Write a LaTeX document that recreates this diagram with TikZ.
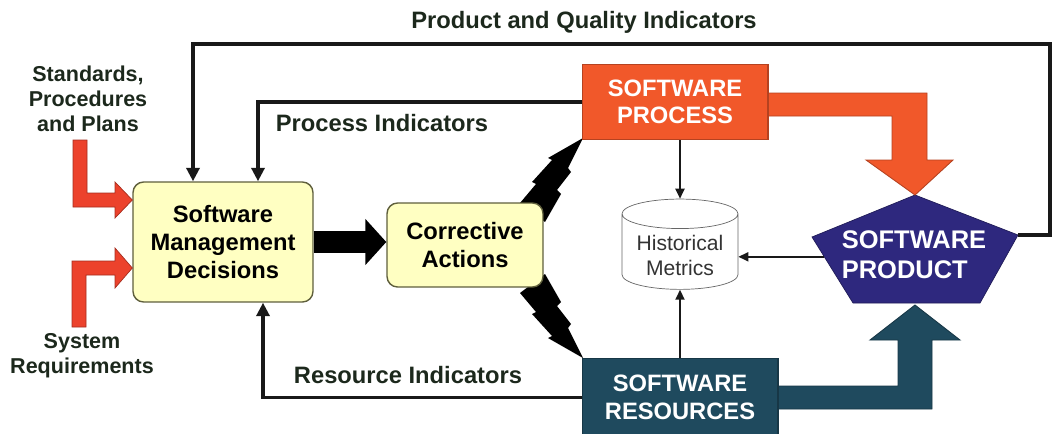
\documentclass[tikz,border=0pt]{standalone}
\usepackage{fontspec}
\setmainfont{Liberation Sans}
\setsansfont{Liberation Sans}
\usepackage{tikz}
\usetikzlibrary{arrows.meta, positioning, calc, shapes.geometric}
\definecolor{ink}{RGB}{28,40,28}
\definecolor{decfill}{RGB}{255,255,194}
\definecolor{decline}{RGB}{95,95,60}
\definecolor{procred}{RGB}{241,88,42}
\definecolor{inred}{RGB}{236,66,44}
\definecolor{prodblue}{RGB}{46,40,126}
\definecolor{resteal}{RGB}{31,74,94}

\begin{document}
\begin{tikzpicture}[x=0.02cm, y=-0.02cm,
    every node/.style={font=\bfseries\fontsize{13.5}{16}\selectfont, text=ink, align=center},
    decbox/.style={draw=decline, line width=0.8pt, fill=decfill, text=black, rounded corners=6pt},
    unitbox/.style={draw=#1!75!black, line width=0.6pt, fill=#1, text=white, inner sep=0pt},
    fatarrow/.style={fill=#1, draw=#1!75!black, line width=0.5pt},
    sidelbl/.style={font=\bfseries\fontsize{12.25}{14.2}\selectfont},
    fb/.style={draw=black!90, line width=2.1pt, -{Triangle[length=0.27cm,width=0.26cm]}},
    mini/.style={draw=black!90, line width=1.1pt, -{Triangle[length=0.2cm,width=0.18cm]}}]
  \useasboundingbox (0,0) rectangle (1053,433);
  \clip (0,0) rectangle (1053,433);
  % lightning bolts
  \foreach \s in {1,-1} {
    \begin{scope}[shift={(0,248)}, yscale=\s]
      \fill[black] (520,-45) -- (536,-64) -- (532,-66) -- (552,-88) -- (548,-90) -- (583,-110)
        -- (568,-80) -- (571,-76) -- (557,-58) -- (561,-54) -- (545,-26) -- cycle;
    \end{scope}}
  % boxes
  \node[decbox, minimum width=3.6cm, minimum height=2.4cm] (smd) at (223,242) {Software\\Management\\Decisions};
  \node[decbox, minimum width=3.12cm, minimum height=1.68cm] (ca) at (465,245) {Corrective\\Actions};
  \node[unitbox=procred, minimum width=3.72cm, minimum height=1.5cm,
    font=\bfseries\fontsize{13.5}{15.4}\selectfont] (proc) at (675,102) {SOFTWARE\\PROCESS};
  \node[unitbox=resteal, minimum width=3.92cm, minimum height=1.56cm, anchor=north] (res) at (680,358) {SOFTWARE\\RESOURCES};
  \node[cylinder, shape border rotate=90, draw=black!60, fill=white, aspect=0.3,
    minimum width=2.32cm, minimum height=1.76cm, text=black!80,
    font=\fontsize{12}{14.2}\selectfont] (hist) at (680,255) {Historical\\Metrics};
  % product pentagon
  \path (915,195) coordinate (prodN) (1018,235) coordinate (prodE) (980,303) coordinate (prodSE)
    (853,303) coordinate (prodSW) (812,237) coordinate (prodW);
  \coordinate (prodedge) at ($(prodW)!0.3!(prodSW)$);
  \fill[prodblue, draw=prodblue!70!black] (prodN) -- (prodE) -- (prodSE) -- (prodSW) -- (prodW) -- cycle;
  \node[text=white, align=left, font=\bfseries\fontsize{14.5}{17}\selectfont] (prod) at (914,255) {SOFTWARE\\PRODUCT};
  % fat arrows
  \draw[fatarrow=procred] (proc.east |- 0,93) -- (927,93) -- (927,160) -- (953,160) -- (prodN)
    -- (866,160) -- (892,160) -- (892,116) -- (proc.east |- 0,116) -- cycle;
  \draw[fatarrow=resteal] (res.east |- 0,386) -- (898,386) -- (898,340) -- (870,340) -- (915,305)
    -- (960,340) -- (932,340) -- (932,409) -- (res.east |- 0,409) -- cycle;
  \fill[inred, draw=inred!70!black] (73,140) -- (87,140) -- (87,193) -- (115,193) -- (115,182) -- (smd.west |- 0,200)
    -- (115,218) -- (115,207) -- (73,207) -- cycle;
  \fill[inred, draw=inred!70!black] (72,327) -- (86,327) -- (86,275) -- (115,275) -- (115,288) -- (smd.west |- 0,268)
    -- (115,248) -- (115,261) -- (72,261) -- cycle;
  \draw[line width=0.44cm, -{Triangle[length=0.42cm,width=0.9cm]}] (smd.east) -- (smd.east -| ca.west);
  % indicators
  \coordinate (qturn) at (1050,44);
  \draw[fb] (prodE) -| (qturn) -| ($(smd.north)+(-30,0)$);
  \draw[fb] (proc.west) -| ($(smd.north)+(35,0)$);
  \draw[fb] (res.west) -| ($(smd.south)+(40,0)$);
  \draw[mini] (hist.north |- proc.south) -- (hist.north);
  \draw[mini] (hist.south |- res.north) -- (hist.south);
  \draw[mini] (prodedge) -- (hist.east |- prodedge);
  % labels
  \node (qind) at (584,22) {Product and Quality Indicators};
  \node (pind) at (382,123) {Process Indicators};
  \node (rind) at (408,375) {Resource Indicators};
  \node[sidelbl] (std) at (88,99) {Standards,\\Procedures\\and Plans};
  \node[sidelbl] (sysreq) at (82,356) {System\\Requirements};
\end{tikzpicture}
\end{document}
